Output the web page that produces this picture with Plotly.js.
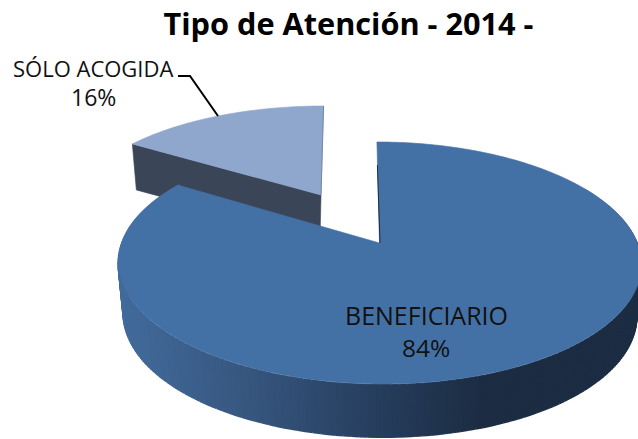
<!DOCTYPE html>
<html>
<head>
<meta charset="utf-8">
<script src="https://cdn.plot.ly/plotly-3.0.1.min.js"></script>
<style>html,body{margin:0;padding:0;background:#fff}#c{width:638px;height:439px}</style>
</head>
<body>
<div id="c"></div>
<script>
var categories = ["BENEFICIARIO", "SÓLO ACOGIDA"];
var values = [84, 16];
var chartTitle = "Tipo de Atención - 2014 -";

var W = 638, H = 439, RX = 258, RY = 117.7, K = 0.165;
var traces = [];
function rad(d){return d*Math.PI/180;}
function projector(ax, ay, sx, sy, skew){
  return function(deg, dy, shrink){
    var u = Math.sin(rad(deg)), v = Math.cos(rad(deg)), w = 1 + K*v;
    var s = shrink || 1;
    return [ax + sx*RX*s*u/w + skew*v/w, ay - sy*RY*v/w + (dy||0)];
  };
}
function poly(pts, fill, line, lw){
  var xs = pts.map(function(p){return p[0];}), ys = pts.map(function(p){return p[1];});
  xs.push(xs[0]); ys.push(ys[0]);
  traces.push({type:"scatter", mode:"lines", x:xs, y:ys, fill:"toself", fillcolor:fill,
    line:{color:line||fill, width:lw===undefined?0.6:lw, simplify:false}, hoverinfo:"skip", showlegend:false});
}
function arc(f, a, b, dy, shrink){
  var out = [], n = Math.max(2, Math.ceil(Math.abs(b-a)));
  for (var i=0;i<=n;i++) out.push(f(a+(b-a)*i/n, dy, shrink));
  return out;
}
function lerpColor(stops, x){
  for (var i=0;i<stops.length-1;i++){
    if (x<=stops[i+1][0]){
      var t=Math.max(0,(x-stops[i][0])/(stops[i+1][0]-stops[i][0]));
      var a=stops[i][1], b=stops[i+1][1];
      return "rgb("+[0,1,2].map(function(k){return Math.round(a[k]+(b[k]-a[k])*t);}).join(",")+")";
    }
  }
  var l=stops[stops.length-1][1];
  return "rgb("+l.join(",")+")";
}
var total = values[0]+values[1];
var split = 360*values[0]/total;

// small exploded slice
var small = projector(321, 195, 0.95, 0.881, 3);
var sLeft = small(split), sApex = [321,195];
poly([sLeft, sApex, [sApex[0]-1, sApex[1]+45], [sLeft[0]+4, sLeft[1]+46]], "#3b4558");
poly([sApex].concat(arc(small, split, 360)), "#8fa6cd");
traces.push({type:"scatter",mode:"lines",x:[small(360)[0],sApex[0]],y:[small(360)[1],sApex[1]],
  line:{color:"#7188ad",width:1},hoverinfo:"skip",showlegend:false});

// large slice: side wall then face
var big = projector(379.5, 243, 1, 1, -3);
var DEPTH = 54, stops = [[118,[66,107,156]],[250,[54,86,126]],[390,[37,59,90]],[480,[28,45,67]],[640,[28,45,67]]];
for (var d=60; d<split; d+=1.5){
  var d2 = d+1.5;
  var p1=big(d,0), p2=big(d2,0), p3=big(d2,DEPTH,0.98), p4=big(d,DEPTH,0.98);
  poly([p1,p2,p3,p4], lerpColor(stops,(p1[0]+p2[0])/2), null, 0);
}
// second pass: thin vertical ribbons over the seams, drawn on the wall's centre line
for (var d=60; d<split; d+=0.75){
  var a=big(d,1), b=big(d,DEPTH-1,0.98);
  traces.push({type:"scatter",mode:"lines",x:[a[0],b[0]],y:[a[1],b[1]],
    line:{color:lerpColor(stops,a[0]),width:2.2},hoverinfo:"skip",showlegend:false});
}
poly([[379.5,243]].concat(arc(big, 0, split)), "#4471a5");
traces.push({type:"scatter",mode:"lines",x:[big(0)[0]+0.5,380],y:[165,243],
  line:{color:"#1c2d43",width:1},hoverinfo:"skip",showlegend:false});

var fam = "Open Sans, sans-serif";
function note(cx, cy, text, size){
  return {xref:"x", yref:"y", x:cx, y:cy, text:text, showarrow:false,
    font:{family:fam, size:size, color:"#111"}, xanchor:"center", yanchor:"middle"};
}
var layout = {
  width:W, height:H, margin:{l:0,r:0,t:0,b:0}, paper_bgcolor:"#fff", plot_bgcolor:"#fff", showlegend:false,
  xaxis:{range:[0,W], visible:false, fixedrange:true},
  yaxis:{range:[H,0], visible:false, fixedrange:true},
  title:{text:"<b>"+chartTitle+"</b>", x:348.5/W, y:1-24/H, xanchor:"center", yanchor:"middle",
    font:{family:fam, size:30.7, color:"#000"}},
  annotations:[
    note(93,68,categories[1],22), note(93,97,values[1]+"%",23),
    note(426.5,315,categories[0],25), note(426,347,values[0]+"%",24.5)
  ],
  shapes:[{type:"path", xref:"x", yref:"y", path:"M178,76 L190,76 L218,116", line:{color:"#000",width:2}}]
};
Plotly.newPlot("c", traces, layout, {displayModeBar:false, staticPlot:true});
</script>
</body>
</html>
